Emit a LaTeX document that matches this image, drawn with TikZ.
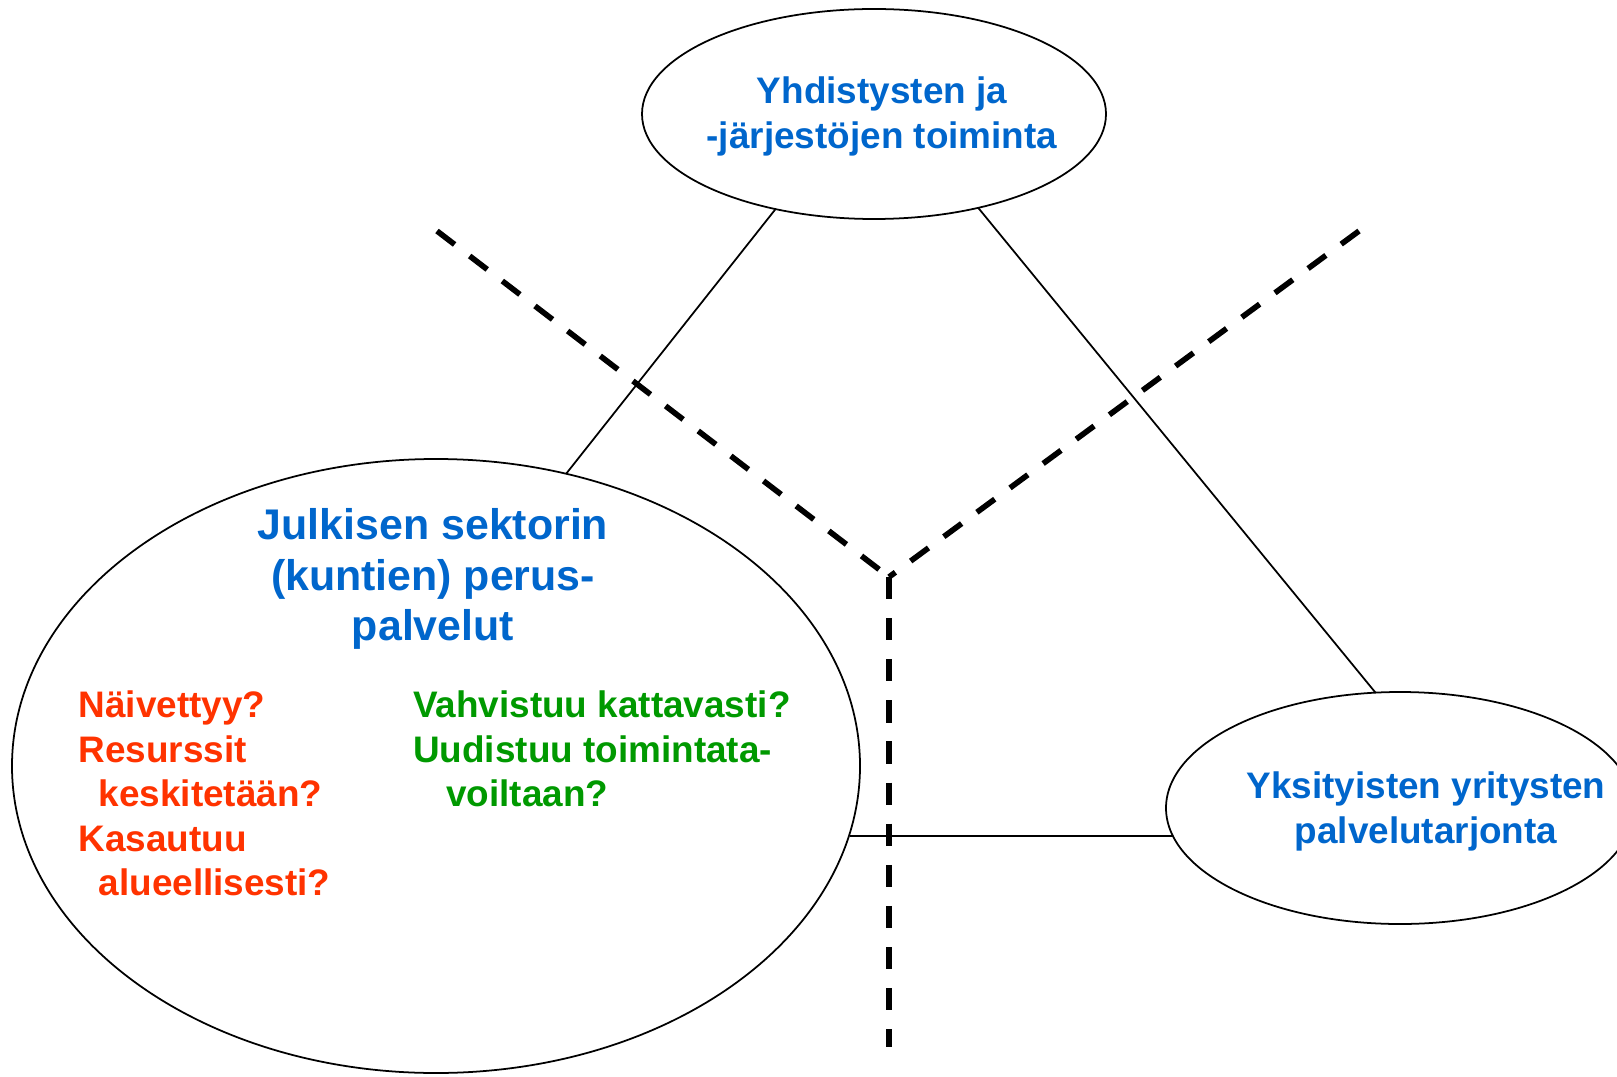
\documentclass[tikz,border=0pt]{standalone}
\usepackage{fontspec}
\setmainfont{Liberation Sans}
\usepackage{xcolor}
\usetikzlibrary{shapes.geometric, positioning, calc}
\definecolor{titleblue}{RGB}{0,102,204}
\definecolor{askred}{RGB}{255,51,0}
\definecolor{askgreen}{RGB}{0,153,0}

\begin{document}
\begin{tikzpicture}[
    sector/.style={draw, ellipse, line width=0.5pt, inner sep=0pt, outer sep=0pt},
    title/.style={align=center, text=titleblue, inner sep=0pt,
      font=\bfseries\fontsize{10.5}{12.6}\selectfont},
    bigtitle/.style={title, font=\bfseries\fontsize{12.2}{14.3}\selectfont},
    ask/.style={align=left, anchor=north west, inner sep=0pt,
      font=\bfseries\fontsize{10.5}{12.7}\selectfont},
    link/.style={line width=0.5pt},
    divider/.style={line width=1.6pt, dash pattern=on 6.3pt off 5.4pt}]
  \clip (0,0) rectangle (16.17,10.76);
  \fill[white] (0,0) rectangle (16.17,10.76);
  % the three sectors
  \node[sector, minimum width=4.64cm, minimum height=2.10cm] (yhdistys) at (8.74,9.62) {};
  \node[sector, minimum width=8.48cm, minimum height=6.14cm] (julkinen) at (4.36,3.10) {};
  \node[sector, minimum width=4.68cm, minimum height=2.32cm] (yritys) at (14.00,2.68) {};
  % links between the sectors
  \draw[link] (yhdistys.224.5) -- (julkinen.66.6);
  \draw[link] (yhdistys.-42.1) -- (yritys.102.5);
  \draw[link] (yritys.187) coordinate (ylink) -- (ylink -| julkinen.-9.8);
  % dashed borders
  \coordinate (fork) at (8.89,4.99);
  \coordinate (leftend) at (4.37,8.45);
  \coordinate (rightend) at (13.59,8.45);
  \coordinate (downend) at (8.89,0.29);
  \draw[divider] (leftend) -- (fork);
  \draw[divider] (rightend) -- (fork);
  \draw[divider] (fork) -- (downend);
  % texts
  \node[title] (yhdistysteksti) at (8.82,9.595) {Yhdistysten ja\\-järjestöjen toiminta};
  \node[title] (yritysteksti) at (14.26,2.645) {Yksityisten yritysten\\palvelutarjonta};
  \node[bigtitle] (julkinenteksti) at (4.33,4.97) {Julkisen sektorin\\(kuntien) perus-\\palvelut};
  \node[ask, text=askred] (uhat) at (0.78,3.86)
    {Näivettyy?\\Resurssit\\\hspace*{0.2cm}keskitetään?\\Kasautuu\\\hspace*{0.2cm}alueellisesti?};
  \node[ask, text=askgreen] (mahdollisuudet) at (4.125,3.86)
    {Vahvistuu kattavasti?\\Uudistuu toimintata-\\\hspace*{0.33cm}voiltaan?};
\end{tikzpicture}
\end{document}
